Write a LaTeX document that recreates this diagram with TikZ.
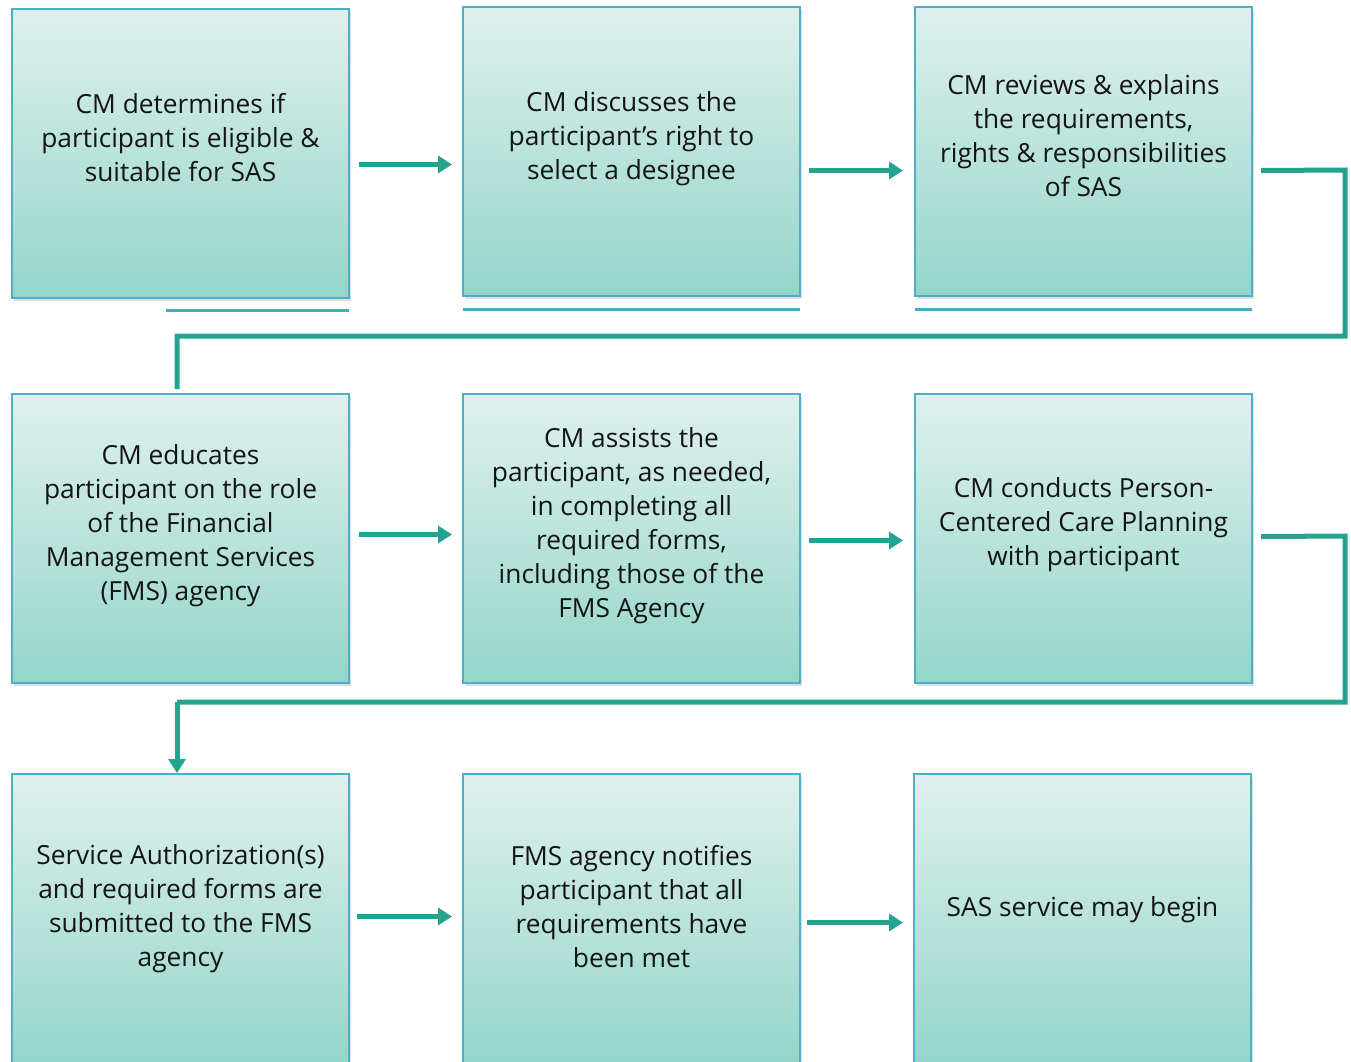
\documentclass[tikz,border=0pt]{standalone}
\usepackage{fontspec}
\setmainfont{Open Sans}
\usetikzlibrary{calc,arrows.meta,shadows}
\definecolor{boxtop}{HTML}{DFF0EC}
\definecolor{boxbot}{HTML}{94D6CA}
\definecolor{boxedge}{HTML}{4FAEC8}
\definecolor{teal}{HTML}{24A38F}
\definecolor{txt}{HTML}{141414}
\tikzset{
  stepbox/.style={draw=boxedge, line width=2pt, top color=boxtop, bottom color=boxbot,
    minimum width=337pt, minimum height=289pt, inner sep=0pt,
    drop shadow={opacity=0.25, shadow xshift=2pt, shadow yshift=-3pt}},
  steptext/.style={align=center, text=txt, font=\fontsize{26.3}{34}\selectfont, inner sep=0pt},
  flow/.style={draw=teal, line width=5pt, -{Triangle[length=14pt,width=17pt]}},
  conn/.style={draw=teal, line width=5pt, line join=miter},
  baseline/.style={draw=boxedge!80!teal, line width=3pt}
}
\begin{document}
\begin{tikzpicture}[x=1pt,y=-1pt]
\useasboundingbox (0,0) rectangle (1351,1061);
% row 1
\node[stepbox] (b1) at (180.5,153.5) {};
\node[stepbox] (b2) at (631.5,151.5) {};
\node[stepbox] (b3) at (1083.5,151.5) {};
% row 2
\node[stepbox] (b4) at (180.5,538.5) {};
\node[stepbox] (b5) at (631.5,538.5) {};
\node[stepbox] (b6) at (1083.5,538.5) {};
% row 3
\node[stepbox] (b7) at (180.5,918.5) {};
\node[stepbox] (b8) at (631.5,918.5) {};
\node[stepbox] (b9) at (1082.5,918.5) {};
% thin bars below row 1
\draw[baseline] (166,310) -- (349,310);
\draw[baseline] (463,309) -- (800,309);
\draw[baseline] (915,309) -- (1252,309);
% texts
\node[steptext] (t1) at ($(b1.center)+(0,-16)$) {CM determines if\\participant is eligible \&\\suitable for SAS};
\node[steptext] (t2) at ($(b2.center)+(0,-13)$) {CM discusses the\\participant’s right to\\select a designee};
\node[steptext] (t3) at ($(b3.center)+(0,-16)$) {CM reviews \& explains\\the requirements,\\rights \& responsibilities\\of SAS};
\node[steptext] (t4) at ($(b4.center)+(0,-13)$) {CM educates\\participant on the role\\of the Financial\\Management Services\\(FMS) agency};
\node[steptext] (t5) at ($(b5.center)+(0,-13)$) {CM assists the\\participant, as needed,\\in completing all\\required forms,\\including those of the\\FMS Agency};
\node[steptext] (t6) at ($(b6.center)+(0,-14)$) {CM conducts Person-\\Centered Care Planning\\with participant};
\node[steptext] (t7) at ($(b7.center)+(0,-10)$) {Service Authorization(s)\\and required forms are\\submitted to the FMS\\agency};
\node[steptext] (t8) at ($(b8.center)+(0,-12)$) {FMS agency notifies\\participant that all\\requirements have\\been met};
\node[steptext] (t9) at ($(b9.center)+(0,-9)$) {SAS service may begin};
% horizontal arrows
\draw[flow] ($(b1.east)+(9,11)$) -- ($(b2.west |- b1.east)+(-10,11)$);
\draw[flow] ($(b2.east)+(8,19)$) -- ($(b3.west)+(-11,19)$);
\draw[flow] ($(b4.east)+(9,-4)$) -- ($(b5.west)+(-10,-4)$);
\draw[flow] ($(b5.east)+(8,2)$) -- ($(b6.west)+(-11,2)$);
\draw[flow] ($(b7.east)+(7,-2)$) -- ($(b8.west)+(-10,-2)$);
\draw[flow] ($(b8.east)+(6,4)$) -- ($(b9.west)+(-10,4)$);
% row connectors
\coordinate (r1a) at (1345,170);
\coordinate (r1b) at (1345,336);
\coordinate (r1c) at (177,336);
\draw[conn] ($(b3.east)+(8,19)$) -- (r1a) -- (r1b) -- (r1c) -- ($(b4.north -| r1c)+(0,-4)$);
\coordinate (r2a) at (1345,536);
\coordinate (r2b) at (1345,702);
\coordinate (r2c) at (177,702);
\draw[conn] ($(b6.east)+(8,-2)$) -- (r2a) -- (r2b) -- (r2c);
\draw[flow] (r2c) -- (b7.north -| r2c);
\end{tikzpicture}
\end{document}
